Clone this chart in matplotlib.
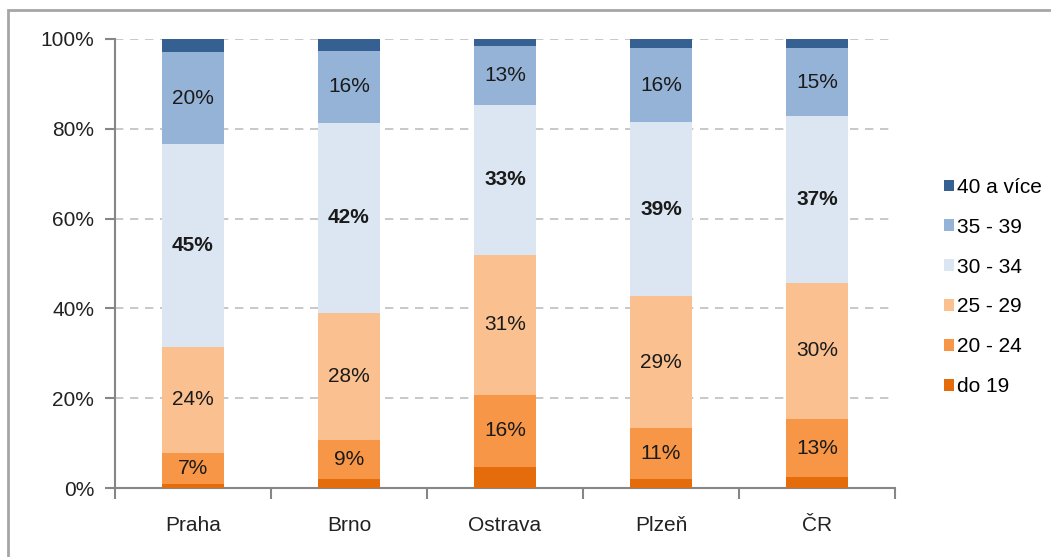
import numpy as np
import matplotlib
matplotlib.use('Agg')
import matplotlib.pyplot as plt
from matplotlib.patches import Rectangle

plt.rcParams['font.family'] = ['Liberation Sans', 'DejaVu Sans']

cities = ['Praha', 'Brno', 'Ostrava', 'Plzeň', 'ČR']
groups = ['do 19', '20 - 24', '25 - 29', '30 - 34', '35 - 39', '40 a více']

# shares (%) per age group
do19    = [1.0, 2.0, 4.7, 2.0, 2.4]
g20_24  = [6.8, 8.6, 16.1, 11.4, 13.0]
g25_29  = [23.7, 28.4, 31.2, 29.3, 30.3]
g30_34  = [45.1, 42.4, 33.4, 38.8, 37.1]
g35_39  = [20.4, 16.0, 13.1, 16.5, 15.2]
g40plus = [3.0, 2.6, 1.5, 2.0, 2.0]

series = [do19, g20_24, g25_29, g30_34, g35_39, g40plus]
colors = ['#E46C0A', '#F79646', '#FAC090', '#DCE6F2', '#95B3D7', '#376092']
labelled = [False, True, True, True, True, False]
bold = [False, False, False, True, False, False]

fig = plt.figure(figsize=(10.51, 5.57), dpi=100)
fig.patches.append(Rectangle((8 / 1051, -0.1), 1.2, 1 - 10 / 557 + 0.1,
                             transform=fig.transFigure, fill=False,
                             edgecolor='#A6A6A6', linewidth=2))
ax = fig.add_axes([115 / 1051, 69 / 557, 780 / 1051, 449 / 557])

x = np.arange(len(cities))
bottom = np.zeros(len(cities))
handles = []
for vals, c, lab, b, name in zip(series, colors, labelled, bold, groups):
    v = np.array(vals) / 100.
    h = ax.bar(x, v, 0.4, bottom=bottom, color=c, label=name, zorder=3)
    handles.append(h)
    if lab:
        for xi, bi, vi in zip(x, bottom, v):
            ax.text(xi, bi + vi / 2, '{:.0f}%'.format(vi * 100), ha='center',
                    va='center', fontsize=15, color='#1a1a1a',
                    fontweight='bold' if b else 'normal', zorder=4)
    bottom += v

ax.set_xlim(-0.5, len(cities) - 0.5)
ax.set_ylim(0, 1)
ax.set_yticks(np.arange(0, 1.01, 0.2))
ax.set_yticklabels(['{:.0f}%'.format(t * 100) for t in np.arange(0, 1.01, 0.2)])
ax.yaxis.grid(True, linestyle=(0, (5, 4)), color='#BFBFBF', linewidth=1.2, zorder=0)
ax.set_axisbelow(True)

ax.set_xticks(np.arange(-0.5, len(cities), 1.0))
ax.set_xticklabels([])
ax.set_xticks(x, minor=True)
ax.set_xticklabels(cities, minor=True)
ax.tick_params(axis='x', which='minor', length=0, pad=20, labelsize=15,
               labelcolor='#222222')
ax.tick_params(axis='x', which='major', length=8, width=1.5, color='#868686')
ax.tick_params(axis='y', length=7, width=1.5, color='#868686', labelsize=15,
               labelcolor='#222222', pad=8)

for s in ['top', 'right']:
    ax.spines[s].set_visible(False)
for s in ['left', 'bottom']:
    ax.spines[s].set_color('#868686')
    ax.spines[s].set_linewidth(1.5)

fig.legend(handles[::-1], groups[::-1], loc='center left',
           bbox_to_anchor=(925 / 1051, 1 - 287 / 557), frameon=False,
           fontsize=15, handlelength=0.5, handleheight=0.5,
           handletextpad=0.15, labelspacing=1.0)

fig.savefig('out.png', dpi=100)
